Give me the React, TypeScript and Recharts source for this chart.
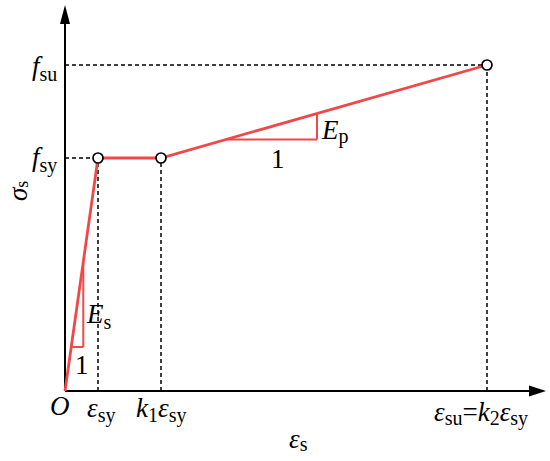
import { LineChart, Line, XAxis, YAxis, ReferenceLine, ReferenceDot } from 'recharts';

// strain positions: O, eps_sy, k1*eps_sy, eps_su (= k2*eps_sy)
const strain = [0, 33, 96, 422];
// stress: 0, f_sy, f_sy, f_su
const stress = [0, 233, 233, 326];

// slope triangles (E_s on elastic branch, E_p on hardening branch)
const esTriangle = [
  [6.3, 44],
  [18.3, 44],
  [18.3, 129],
];
const epTriangle = [
  [161, 251.5],
  [252, 251.5],
  [252, 277.4],
];

const data = strain.map((x, i) => ({ x, y: stress[i] }));

const RED = '#f04848';
const FS = 27;
const SUB = 20;
const txt = { fontFamily: '"Liberation Serif", "Times New Roman", serif', fontSize: FS, fill: '#000' };
const it = { fontStyle: 'italic' as const };
const sub = { fontSize: SUB, fontStyle: 'normal' as const };

const dash = { stroke: '#000', strokeWidth: 1.5, strokeDasharray: '4 3' };

const OpenDot = (props: any) => {
  const { cx, cy, index } = props;
  if (index === 0) return <g key={`d-${index}`} />;
  return <circle key={`d-${index}`} cx={cx} cy={cy} r={5} fill="#fff" stroke="#000" strokeWidth={1.7} />;
};

const ArrowRight = (props: any) => (
  <path d={`M${props.cx},${props.cy - 5.5} L${props.cx + 17},${props.cy} L${props.cx},${props.cy + 5.5} Z`} fill="#000" />
);
const ArrowUp = (props: any) => (
  <path d={`M${props.cx - 5},${props.cy} L${props.cx},${props.cy - 19} L${props.cx + 5},${props.cy} Z`} fill="#000" />
);

const tri = (pts: number[][]) =>
  pts.slice(1).map((p, i) => (
    <ReferenceLine
      key={`t-${p[0]}-${p[1]}`}
      segment={[
        { x: pts[i][0], y: pts[i][1] },
        { x: p[0], y: p[1] },
      ]}
      stroke={RED}
      strokeWidth={2}
    />
  ));

export default function App() {
  return (
    <div style={{ position: 'absolute', left: 0, top: 0, background: '#fff' }}>
      <LineChart width={550} height={461} data={data} margin={{ top: 5, right: 5, left: 65, bottom: 70 }}>
        <XAxis type="number" dataKey="x" domain={[0, 480]} hide />
        <YAxis type="number" domain={[0, 386]} hide />

        {/* dashed guides */}
        <ReferenceLine segment={[{ x: 0, y: stress[3] }, { x: strain[3], y: stress[3] }]} {...dash} />
        <ReferenceLine segment={[{ x: 0, y: stress[1] }, { x: strain[1], y: stress[1] }]} {...dash} />
        <ReferenceLine segment={[{ x: strain[1], y: 0 }, { x: strain[1], y: stress[1] }]} {...dash} />
        <ReferenceLine segment={[{ x: strain[2], y: 0 }, { x: strain[2], y: stress[2] }]} {...dash} />
        <ReferenceLine segment={[{ x: strain[3], y: 0 }, { x: strain[3], y: stress[3] }]} {...dash} />

        {/* axes */}
        <ReferenceLine segment={[{ x: 0, y: 0 }, { x: 465, y: 0 }]} stroke="#000" strokeWidth={2} />
        <ReferenceLine segment={[{ x: 0, y: 0 }, { x: 0, y: 368 }]} stroke="#000" strokeWidth={2} />
        <ReferenceDot x={464} y={0} r={0} shape={ArrowRight} />
        <ReferenceDot x={0} y={367} r={0} shape={ArrowUp} />

        {tri(esTriangle)}
        {tri(epTriangle)}

        <Line
          dataKey="y"
          stroke={RED}
          strokeWidth={2.8}
          dot={OpenDot}
          activeDot={false}
          isAnimationActive={false}
        />

        <g>
          <text x={32} y={75} style={txt}>
            <tspan style={it}>f</tspan>
            <tspan style={sub} dy={6}>su</tspan>
          </text>
          <text x={32} y={166} style={txt}>
            <tspan style={it}>f</tspan>
            <tspan style={sub} dy={6}>sy</tspan>
          </text>
          <text x={0} y={0} transform="translate(27,201) rotate(-90)" style={txt}>
            <tspan style={{ ...it, fontSize: 27 }}>σ</tspan>
            <tspan style={{ ...sub, fontSize: 18 }} dy={1}>s</tspan>
          </text>
          <text x={289} y={448} style={txt}>
            <tspan style={it}>ε</tspan>
            <tspan style={sub} dy={3}>s</tspan>
          </text>
          <text x={50} y={415} style={{ ...txt, ...it }}>O</text>
          <text x={87} y={417} style={txt}>
            <tspan style={it}>ε</tspan>
            <tspan style={sub} dy={5}>sy</tspan>
          </text>
          <text x={136} y={417} style={txt}>
            <tspan style={it}>k</tspan>
            <tspan style={sub} dy={5}>1</tspan>
            <tspan style={it} dy={-5}>ε</tspan>
            <tspan style={sub} dy={5}>sy</tspan>
          </text>
          <text x={434} y={421} style={txt}>
            <tspan style={it}>ε</tspan>
            <tspan style={sub} dy={4}>su</tspan>
            <tspan dy={-4}>=</tspan>
            <tspan style={it}>k</tspan>
            <tspan style={sub} dy={4}>2</tspan>
            <tspan style={it} dy={-4}>ε</tspan>
            <tspan style={sub} dy={4}>sy</tspan>
          </text>
          <text x={87} y={323} style={txt}>
            <tspan style={it}>E</tspan>
            <tspan style={sub} dy={6}>s</tspan>
          </text>
          <text x={75} y={374} style={txt}>1</text>
          <text x={322} y={139} style={txt}>
            <tspan style={it}>E</tspan>
            <tspan style={sub} dy={4}>p</tspan>
          </text>
          <text x={271} y={168} style={txt}>1</text>
        </g>
      </LineChart>
    </div>
  );
}
